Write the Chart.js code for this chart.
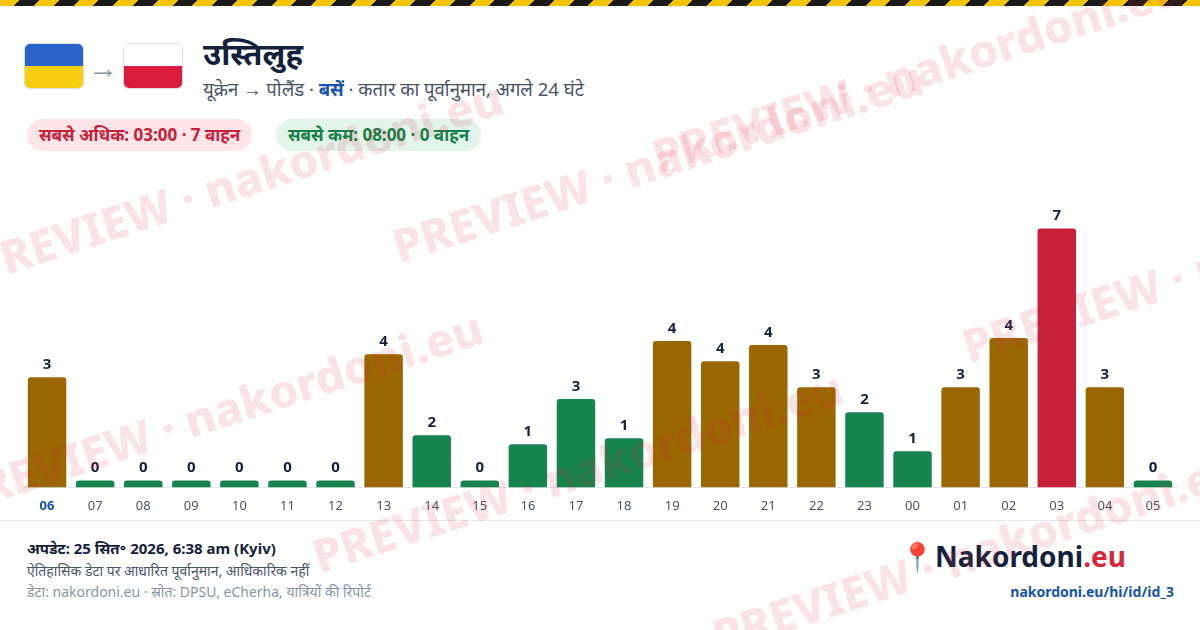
<!DOCTYPE html>
<html>
<head>
<meta charset="utf-8">
<script src="https://cdn.jsdelivr.net/npm/chart.js@4.4.1/dist/chart.umd.min.js"></script>
<style>
  body { margin: 0; width: 1200px; height: 630px; background: #fff; font-family: "Noto Sans", sans-serif; position: relative; overflow: hidden; }
  .stripe { position: absolute; left: 0; top: 0; width: 1200px; height: 6px;
    background: repeating-linear-gradient(135deg, #f5c400 0 14px, #1a1a1a 14px 28px); }
  .flag { position: absolute; top: 44px; width: 58px; height: 44px; border-radius: 5px; overflow: hidden; box-shadow: 0 0 0 1px #ddd; }
  .ua { left: 25px; background: linear-gradient(#2a63c9 50%, #f7cf10 50%); }
  .pl { left: 124px; background: linear-gradient(#fff 50%, #dc1c3e 50%); }
  .arrow { position: absolute; left: 88px; top: 46px; font-size: 30px; color: #8a94a6; }
  h1 { position: absolute; left: 203px; top: 32px; margin: 0; font-size: 31px; font-weight: 700; color: #14213d; }
  .sub { position: absolute; left: 203px; top: 76px; font-size: 18.5px; color: #4a5468; }
  .sub b { color: #1553b0; }
  .pill { position: absolute; top: 119px; height: 32px; line-height: 32px; padding: 0 12px; border-radius: 16px; font-size: 17px; font-weight: 700; }
  .hi { left: 27px; background: #fde5e8; color: #c8203a; }
  .lo { left: 276px; background: #e3f4ea; color: #16804a; }
  #wrap { position: absolute; left: 23px; top: 190px; width: 1154px; height: 327px; }
  .sep { position: absolute; left: 0; top: 520px; width: 1200px; height: 1px; background: #e6e8ec; }
  .f1 { position: absolute; left: 27px; top: 538px; font-size: 15px; font-weight: 700; color: #14213d; }
  .f2 { position: absolute; left: 27px; top: 561px; font-size: 14px; color: #4a5468; }
  .f3 { position: absolute; left: 27px; top: 582px; font-size: 14px; color: #8a94a6; }
  .logo { position: absolute; left: 900px; top: 537px; font-size: 28px; font-weight: 700; color: #14213d; }
  .logo span { color: #d6283c; }
  .url { position: absolute; right: 26px; top: 582px; font-size: 14px; font-weight: 700; color: #1553b0; }
  .wm { position: absolute; font-size: 46px; font-weight: 800; color: rgba(214,40,60,0.13); transform: rotate(-18deg); white-space: nowrap; pointer-events: none; }
</style>
</head>
<body>
<div class="stripe"></div>
<div class="flag ua"></div>
<div class="arrow">→</div>
<div class="flag pl"></div>
<h1>उस्तिलुह</h1>
<div class="sub">यूक्रेन → पोलैंड · <b>बसें</b> · कतार का पूर्वानुमान, अगले 24 घंटे</div>
<div class="pill hi">सबसे अधिक: 03:00 · 7 वाहन</div>
<div class="pill lo">सबसे कम: 08:00 · 0 वाहन</div>
<div id="wrap"><canvas id="chart"></canvas></div>
<div class="sep"></div>
<div class="f1">अपडेट: 25 सित॰ 2026, 6:38 am (Kyiv)</div>
<div class="f2">ऐतिहासिक डेटा पर आधारित पूर्वानुमान, आधिकारिक नहीं</div>
<div class="f3">डेटा: nakordoni.eu · स्रोत: DPSU, eCherha, यात्रियों की रिपोर्ट</div>
<div class="logo">📍Nakordoni<span>.eu</span></div>
<div class="url">nakordoni.eu/hi/id/id_3</div>
<div class="wm" style="left:-40px;top:150px">PREVIEW · nakordoni.eu</div>
<div class="wm" style="left:380px;top:130px">PREVIEW · nakordoni.eu</div>
<div class="wm" style="left:640px;top:40px">PREVIEW · nakordoni.eu</div>
<div class="wm" style="left:950px;top:230px">PREVIEW · nakordoni.eu</div>
<div class="wm" style="left:-60px;top:380px">PREVIEW · nakordoni.eu</div>
<div class="wm" style="left:300px;top:440px">PREVIEW · nakordoni.eu</div>
<div class="wm" style="left:700px;top:520px">PREVIEW · nakordoni.eu</div>
<script>
// घंटे (अगले 24)
const HOURS = ["06","07","08","09","10","11","12","13","14","15","16","17","18","19","20","21","22","23","00","01","02","03","04","05"];
// पूर्वानुमान (बार की ऊँचाई)
const QUEUE = [2.98,0,0,0,0,0,0,3.6,1.41,0,1.17,2.39,1.33,3.96,3.41,3.85,2.71,2.03,0.98,2.71,4.04,7,2.71,0];
// बार के ऊपर दिखने वाले लेबल
const LABELS = [3,0,0,0,0,0,0,4,2,0,1,3,1,4,4,4,3,2,1,3,4,7,3,0];

const maxVal = Math.max(...QUEUE);
const colors = QUEUE.map((v) => v === maxVal ? "#c8203a" : v >= 2.5 ? "#9a6700" : "#17844f");

const labelPlugin = {
  id: "barLabels",
  afterDatasetsDraw(chart) {
    const ctx = chart.ctx;
    const meta = chart.getDatasetMeta(0);
    ctx.save();
    ctx.font = "bold 15px 'Noto Sans'";
    ctx.fillStyle = "#14213d";
    ctx.textAlign = "center";
    ctx.textBaseline = "bottom";
    meta.data.forEach((bar, i) => {
      ctx.fillText(String(LABELS[i]), bar.x, bar.y - 5);
    });
    ctx.restore();
  },
};

new Chart(document.getElementById("chart"), {
  type: "bar",
  data: {
    labels: HOURS,
    datasets: [{
      data: QUEUE,
      backgroundColor: colors,
      borderRadius: { topLeft: 3, topRight: 3 },
      borderSkipped: "bottom",
      minBarLength: 7,
      categoryPercentage: 0.8,
      barPercentage: 1,
    }],
  },
  options: {
    responsive: true,
    maintainAspectRatio: false,
    animation: false,
    layout: { padding: { top: 20 } },
    plugins: { legend: { display: false }, tooltip: { enabled: false } },
    scales: {
      x: {
        grid: { display: false },
        border: { color: "#e1e4e8" },
        ticks: {
          color: (c) => c.index === 0 ? "#1553b0" : "#4a5468",
          font: (c) => ({ family: "Noto Sans", size: 13, weight: c.index === 0 ? "bold" : "normal" }),
        },
      },
      y: { display: false, min: 0, max: 7.5 },
    },
  },
  plugins: [labelPlugin],
});
</script>
</body>
</html>
